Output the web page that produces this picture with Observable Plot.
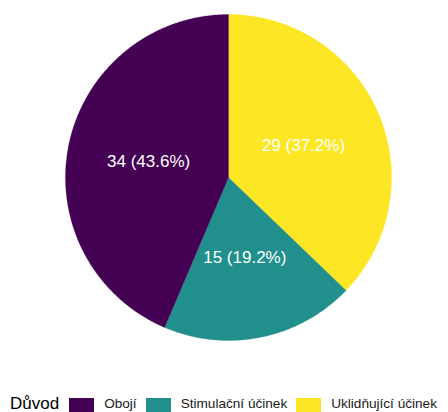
<!DOCTYPE html>
<html>
<head>
<meta charset="utf-8">
<script src="https://cdn.jsdelivr.net/npm/d3@7"></script>
<script src="https://cdn.jsdelivr.net/npm/@observablehq/plot@0.6"></script>
<style>
  html, body { margin: 0; padding: 0; background: #fff; overflow: hidden; }
  body { width: 448px; height: 412px; font-family: "Liberation Sans", Arial, sans-serif; }
  #chart svg { display: block; }
  #legend { display: flex; align-items: flex-start; padding-left: 10px; height: 16px; width: 460px; overflow: visible; white-space: nowrap; }
  #legend > span { flex: 0 0 auto; white-space: nowrap; }
  #legend .title { font-size: 17px; line-height: 17px; margin-right: 10px; margin-top: -1px; color: #000; }
  #legend .sw { width: 25px; height: 25px; margin-right: 10px; margin-top: 2px; }
  #legend .lab { font-size: 13.6px; line-height: 14px; margin-right: 9px; color: #1a1a1a; margin-top: 1px; }
</style>
</head>
<body>
<div id="chart"></div>
<div id="legend"></div>
<script>
const legendTitle = "Důvod";
const categories = ["Obojí", "Stimulační účinek", "Uklidňující účinek"];
const counts = [34, 15, 29];
const colors = ["#440154", "#21908C", "#FDE725"];

// clockwise from 12 o'clock: last category first (stacking order)
const order = [2, 1, 0];
const total = d3.sum(counts);
const wedges = [];
const labels = [];
let acc = 0;
for (const i of order) {
  const a0 = acc / total * 2 * Math.PI;
  acc += counts[i];
  const a1 = acc / total * 2 * Math.PI;
  const n = Math.max(2, Math.ceil((a1 - a0) / (Math.PI / 360)));
  wedges.push({cat: categories[i], x: 0, y: 0});
  for (let k = 0; k <= n; k++) {
    const a = a0 + (a1 - a0) * k / n;
    wedges.push({cat: categories[i], x: Math.sin(a), y: Math.cos(a)});
  }
  wedges.push({cat: categories[i], x: 0, y: 0});
  const m = (a0 + a1) / 2;
  labels.push({
    cat: categories[i],
    x: 0.5 * Math.sin(m),
    y: 0.5 * Math.cos(m),
    text: `${counts[i]} (${(counts[i] / total * 100).toFixed(1)}%)`
  });
}

const chart = Plot.plot({
  width: 448,
  height: 396,
  marginLeft: 65,
  marginRight: 57,
  marginTop: 14,
  marginBottom: 56,
  x: {domain: [-1, 1], axis: null},
  y: {domain: [-1, 1], axis: null},
  color: {domain: categories, range: colors},
  marks: [
    Plot.line(wedges, {x: "x", y: "y", z: "cat", fill: "cat", stroke: "cat", strokeWidth: 0.3, curve: "linear"}),
    Plot.text(labels, {x: "x", y: "y", text: "text", fill: "white", fontSize: 17, fontFamily: "Liberation Sans, Arial, sans-serif"})
  ]
});
document.getElementById("chart").appendChild(chart);

const color = chart.scale("color");
const lg = document.getElementById("legend");
const t = document.createElement("span");
t.className = "title";
t.textContent = legendTitle;
lg.appendChild(t);
categories.forEach((c, i) => {
  const sw = document.createElement("span");
  sw.className = "sw";
  sw.style.background = color.apply(c);
  lg.appendChild(sw);
  const l = document.createElement("span");
  l.className = "lab";
  l.textContent = c;
  lg.appendChild(l);
});
</script>
</body>
</html>
